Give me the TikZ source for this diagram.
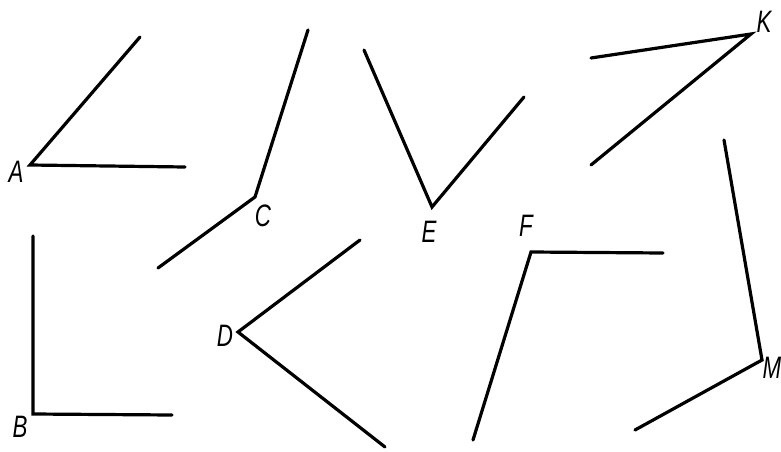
\documentclass[tikz,border=0pt]{standalone}
\usepackage{fontspec}
\setmainfont{Liberation Sans}
\usetikzlibrary{positioning}

\begin{document}
\begin{tikzpicture}[
    x=1pt,y=-1pt,
    ray/.style={line width=3.2pt,line cap=round,line join=miter},
    lbl/.style={font=\fontsize{31}{31}\selectfont\itshape,inner sep=0pt,xscale=0.72}
  ]
    \useasboundingbox (0,0) rectangle (781,452);
    % vertices
    \coordinate (A) at (30,165);
    \coordinate (C) at (255,197);
    \coordinate (E) at (432,207);
    \coordinate (K) at (751,34);
    \coordinate (B) at (33,414);
    \coordinate (D) at (238,332);
    \coordinate (F) at (531,252);
    \coordinate (M) at (762,360);
    % ray ends
    \coordinate (a1) at (140,37);   \coordinate (a2) at (185,167);
    \coordinate (c1) at (308,30);   \coordinate (c2) at (158,268);
    \coordinate (e1) at (364,50);   \coordinate (e2) at (524,97);
    \coordinate (k1) at (591,58);   \coordinate (k2) at (591,165);
    \coordinate (b1) at (33,236);   \coordinate (b2) at (172,415);
    \coordinate (d1) at (360,240);  \coordinate (d2) at (385,447);
    \coordinate (f1) at (663,253);  \coordinate (f2) at (473,440);
    \coordinate (m1) at (724,140);  \coordinate (m2) at (635,430);
    % angles
    \draw[ray] (a1) -- (A) -- (a2);
    \draw[ray] (c1) -- (C) -- (c2);
    \draw[ray] (e1) -- (E) -- (e2);
    \draw[ray] (k1) -- (K) -- (k2);
    \draw[ray] (b1) -- (B) -- (b2);
    \draw[ray] (d1) -- (D) -- (d2);
    \draw[ray] (f1) -- (F) -- (f2);
    \draw[ray] (m1) -- (M) -- (m2);
    % labels
    \node[lbl] (lA) at (16,172) {A};
    \node[lbl] (lC) at (263,216) {C};
    \node[lbl] (lE) at (429,232) {E};
    \node[lbl] (lK) at (764,22) {K};
    \node[lbl] (lB) at (20,427) {B};
    \node[lbl] (lD) at (225,336) {D};
    \node[lbl] (lF) at (526,226) {F};
    \node[lbl] (lM) at (772,368) {M};
\end{tikzpicture}
\end{document}
